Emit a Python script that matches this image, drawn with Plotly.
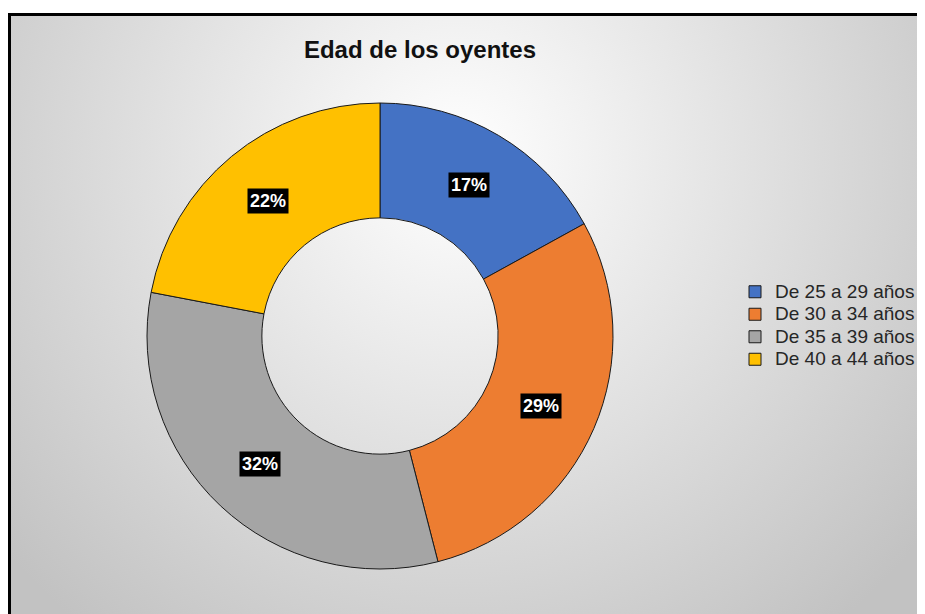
import base64
import math
import plotly.graph_objects as go

categories = ["De 25 a 29 años", "De 30 a 34 años", "De 35 a 39 años", "De 40 a 44 años"]
values = [17, 29, 32, 22]
colors = ["#4472C4", "#ED7D31", "#A5A5A5", "#FFC000"]
title_text = "Edad de los oyentes"

# figure size = window minus the page's 8px body margin
W, H = 917, 606
CX, CY, R, HOLE = 372, 328, 233, 0.507

svg = f'''<svg xmlns="http://www.w3.org/2000/svg" width="{W}" height="{H}" viewBox="0 0 {W} {H}">
<defs><radialGradient id="g" gradientUnits="userSpaceOnUse" cx="450" cy="150" r="600">
<stop offset="0" stop-color="#ffffff"/><stop offset="1" stop-color="#c2c2c2"/></radialGradient></defs>
<rect x="0" y="0" width="{W}" height="{H}" fill="#ffffff"/>
<rect x="1.5" y="6.5" width="{W+20}" height="{H+20}" fill="url(#g)" stroke="#000000" stroke-width="3"/>
</svg>'''
src = "data:image/svg+xml;base64," + base64.b64encode(svg.encode()).decode()

legend_labels = [f'<span style="font-size:19px">{c}</span>' for c in categories]

fig = go.Figure()
fig.add_trace(go.Pie(
    labels=legend_labels, values=values, hole=HOLE, sort=False, direction="clockwise",
    rotation=0, marker=dict(colors=colors, line=dict(color="#1a1a1a", width=1)),
    textinfo="none", hovertext=categories, hoverinfo="text+percent",
    domain=dict(x=[(CX - R) / W, (CX + R) / W], y=[(H - CY - R) / H, (H - CY + R) / H]),
))

total = sum(values)
rmid = R * (1 + HOLE) / 2
annotations = []
cum = 0
for v in values:
    mid = (cum + v / 2) / total * 2 * math.pi
    cum += v
    px = CX + rmid * math.sin(mid)
    py = CY - rmid * math.cos(mid)
    annotations.append(dict(
        x=px / W, y=1 - py / H, xref="paper", yref="paper", showarrow=False,
        text=f"<b>{round(v / total * 100)}%</b>", bgcolor="#000000", borderpad=2,
        font=dict(family="Liberation Sans, Arial", size=18, color="#ffffff"),
        xanchor="center", yanchor="middle",
    ))

fig.update_layout(
    width=W, height=H, margin=dict(l=0, r=0, t=0, b=0),
    paper_bgcolor="#ffffff", plot_bgcolor="rgba(0,0,0,0)",
    title=dict(text=f"<b>{title_text}</b>", x=412 / W, xanchor="center", y=1 - 42 / H, yanchor="middle",
               font=dict(family="Liberation Sans, Arial", size=24, color="#111111")),
    legend=dict(x=727 / W, xanchor="left", y=1 - 317.5 / H, yanchor="middle",
                font=dict(family="Liberation Sans, Arial", size=15, color="#262626"),
                bgcolor="rgba(0,0,0,0)", itemwidth=30, tracegroupgap=0),
    images=[dict(source=src, xref="paper", yref="paper", x=0, y=1, sizex=1, sizey=1,
                 xanchor="left", yanchor="top", sizing="stretch", layer="below")],
    annotations=annotations,
)

fig.write_html("out.html")
